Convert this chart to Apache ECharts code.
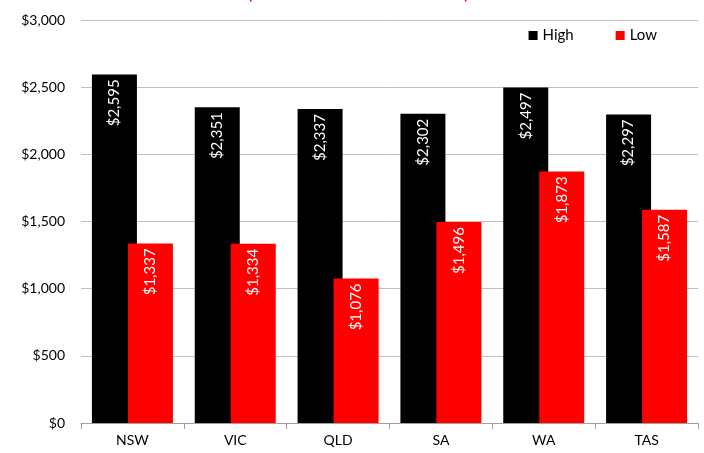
<!DOCTYPE html>
<html>
<head>
<meta charset="utf-8">
<script src="https://cdn.jsdelivr.net/npm/echarts@6/dist/echarts.min.js"></script>
<style>
  html, body { margin: 0; padding: 0; background: #fff; }
  #chart { width: 704px; height: 453px; }
</style>
</head>
<body>
<div id="chart"></div>
<script>
// States and their high / low annual figures
const states = ['NSW', 'VIC', 'QLD', 'SA', 'WA', 'TAS'];
const highValues = [2595, 2351, 2337, 2302, 2497, 2297];
const lowValues = [1337, 1334, 1076, 1496, 1873, 1587];
const yTicks = [0, 500, 1000, 1500, 2000, 2500, 3000];

const FONT = 'Lato, "Open Sans", sans-serif';

function money(v) {
  return '$' + Number(v).toLocaleString('en-US');
}

const valueLabel = {
  show: true,
  position: 'insideTop',
  rotate: 90,
  align: 'right',
  verticalAlign: 'middle',
  distance: 5,
  color: '#ffffff',
  fontFamily: FONT,
  fontSize: 15,
  formatter: p => money(p.value)
};

const chart = echarts.init(document.getElementById('chart'), null, { renderer: 'canvas' });
chart.setOption({
  animation: false,
  backgroundColor: '#ffffff',
  graphic: [
    { type: 'text', left: 247, top: -17, style: { text: '(', fill: '#ff0000', font: '20px ' + FONT } },
    { type: 'text', left: 464, top: -17, style: { text: ')', fill: '#ff0000', font: '20px ' + FONT } }
  ],
  legend: {
    data: ['High', 'Low'],
    right: 42,
    top: 23,
    itemWidth: 9,
    itemHeight: 9,
    itemGap: 42,
    icon: 'rect',
    textStyle: { fontFamily: FONT, fontSize: 15, color: '#000' }
  },
  grid: { left: 81, right: 6, top: 20, bottom: 30, containLabel: false },
  xAxis: {
    type: 'category',
    data: states,
    axisLine: { lineStyle: { color: '#a0a0a0', width: 1 } },
    axisTick: { show: true, length: 6, lineStyle: { color: '#a0a0a0' } },
    axisLabel: { color: '#000', fontFamily: FONT, fontSize: 14, margin: 10 }
  },
  yAxis: {
    type: 'value',
    min: yTicks[0],
    max: yTicks[yTicks.length - 1],
    interval: 500,
    axisLine: { show: false },
    axisTick: { show: false },
    splitLine: { lineStyle: { color: '#bfbfbf', width: 1 } },
    axisLabel: { color: '#000', fontFamily: FONT, fontSize: 14, margin: 16, formatter: v => money(v) }
  },
  series: [
    {
      name: 'High',
      type: 'bar',
      data: highValues,
      barWidth: 45,
      barGap: '-20%',
      itemStyle: { color: '#000000' },
      label: valueLabel
    },
    {
      name: 'Low',
      type: 'bar',
      data: lowValues,
      barWidth: 45,
      itemStyle: { color: '#ff0000' },
      label: valueLabel
    }
  ]
});
</script>
</body>
</html>
